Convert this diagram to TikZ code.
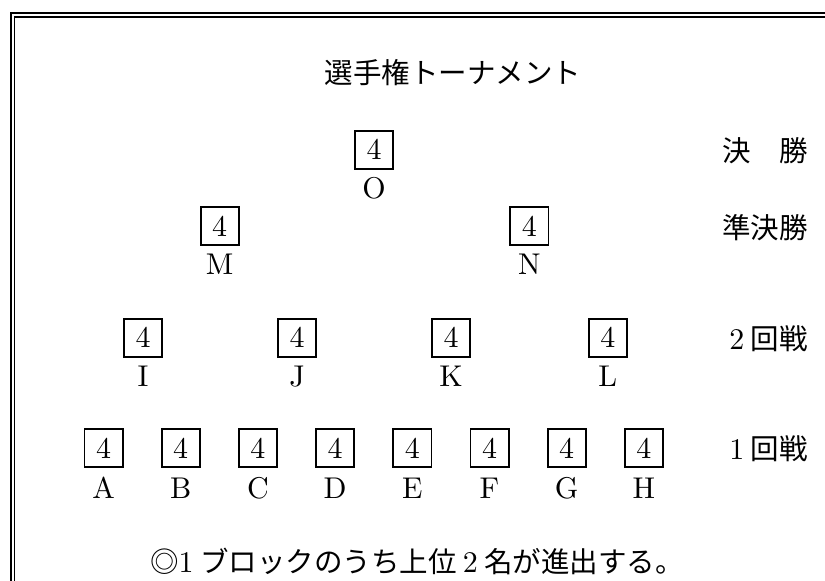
\documentclass[tikz,border=0pt]{standalone}
\usepackage{fontspec}
\setmainfont{lmroman10-regular}[Extension=.otf]
\newfontfamily\cjk{Noto Sans CJK JP}
\begin{document}
\begin{tikzpicture}[x=1pt,y=-1pt,
  rbox/.style={draw,line width=1.8pt,minimum size=38.2pt,inner sep=0pt,font=\fontsize{30}{30}\selectfont},
  lett/.style={anchor=base,inner sep=0pt,font=\fontsize{30}{30}\selectfont},
  jp/.style={inner sep=0pt,font=\fontsize{28.5}{30}\selectfont\cjk},
  frameline/.style={line width=1.8pt}]
\useasboundingbox (0,0) rectangle (825,581);
% double frame
\draw[frameline] (11,600) -- (11,13.2) -- (840,13.2);
\draw[frameline] (14.4,600) -- (14.4,16.6) -- (840,16.6);
% title
\node[jp] (title) at (453,73) {選手権トーナメント};
% final
\node[rbox] (bO) at (374,149.7) {4};
\node[lett] (lO) at (374,198.5) {O};
% semifinal
\node[rbox] (bM) at (219.7,226) {4};
\node[lett] (lM) at (219.7,274.8) {M};
\node[rbox] (bN) at (529.3,226) {4};
\node[lett] (lN) at (529.3,274.8) {N};
% second round
\foreach \n/\x in {I/143,J/297,K/451,L/607.8}{
  \node[rbox] (b\n) at (\x,337.8) {4};
  \node[lett] (l\n) at (\x,386.8) {\n};
}
% first round
\foreach \n/\x in {A/103.5,B/180.7,C/257.9,D/335.1,E/412.3,F/489.5,G/566.7,H/643.9}{
  \node[rbox] (b\n) at (\x,448) {4};
  \node[lett] (l\n) at (\x,498) {\n};
}
% row labels
\node[jp,anchor=east] (r4) at (808,150.5) {決　勝};
\node[jp,anchor=east] (r3) at (808,228) {準決勝};
\node[jp,anchor=east] (r2) at (808,339) {{\fontsize{30}{30}\rmfamily 2} 回戦};
\node[jp,anchor=east] (r1) at (808,449) {{\fontsize{30}{30}\rmfamily 1} 回戦};
% note
\node[jp] (note) at (417,561) {◎{\fontsize{30}{30}\rmfamily 1} ブロックのうち上位 {\fontsize{30}{30}\rmfamily 2} 名が進出する。};
\end{tikzpicture}
\end{document}
